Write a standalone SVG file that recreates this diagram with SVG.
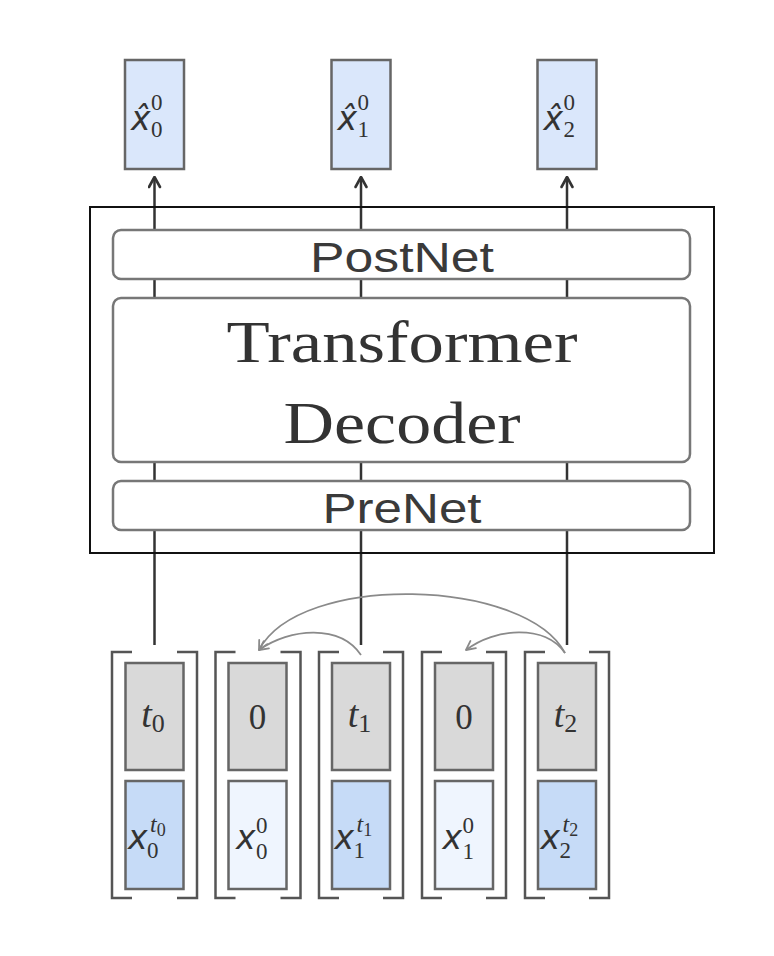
<svg xmlns="http://www.w3.org/2000/svg" width="774" height="956" viewBox="0 0 774 956">
<defs>
<style>
.out{fill:#dae7fb;stroke:#666;stroke-width:2.5}
.tok{fill:#d9d9d9;stroke:#666;stroke-width:2.5}
.emb{fill:#c6dbf7;stroke:#666;stroke-width:2.5}
.emb0{fill:#eff5fe;stroke:#666;stroke-width:2.5}
.blk{fill:#fff;stroke:#777;stroke-width:2.5}
.brk{fill:none;stroke:#555;stroke-width:2.5}
.flow{fill:none;stroke:#333;stroke-width:2.5}
.skip{fill:none;stroke:#8a8a8a;stroke-width:1.8}
.sans{font-family:"Liberation Sans","DejaVu Sans",sans-serif;fill:#3a3a3a}
.serif{font-family:"Liberation Serif","DejaVu Serif",serif;fill:#333}
.mx{font-family:"DejaVu Sans","Liberation Sans",sans-serif;font-style:oblique;fill:#333}
.dg{font-family:"Liberation Serif","DejaVu Serif",serif;fill:#333;font-size:23px}
</style>
<marker id="ah" viewBox="0 0 14 14" refX="13" refY="7" markerWidth="14" markerHeight="14" markerUnits="userSpaceOnUse" orient="auto">
<path d="M3,1.5 L13,7 L3,12.5" fill="none" stroke="#333" stroke-width="2.6" stroke-linecap="round" stroke-linejoin="round"/>
</marker>
<marker id="ahg" viewBox="0 0 12 12" refX="11" refY="6" markerWidth="12" markerHeight="12" markerUnits="userSpaceOnUse" orient="auto">
<path d="M2,1.5 L11,6 L2,10.5" fill="none" stroke="#8a8a8a" stroke-width="1.8" stroke-linecap="round" stroke-linejoin="round"/>
</marker>
</defs>
<rect width="774" height="956" fill="#fff"/>

<g id="connectors">
<line class="flow" x1="154.5" y1="645" x2="154.5" y2="177" marker-end="url(#ah)"/>
<line class="flow" x1="361" y1="645" x2="361" y2="177" marker-end="url(#ah)"/>
<line class="flow" x1="567" y1="645" x2="567" y2="177" marker-end="url(#ah)"/>
<path class="skip" d="M565,653 C525,578 300,572 259,650" marker-end="url(#ahg)"/>
<path class="skip" d="M361,655 C340,624 290,628 259,650" marker-end="url(#ahg)"/>
<path class="skip" d="M565,653 C545,624 495,628 466,650" marker-end="url(#ahg)"/>
</g>

<g id="decoder">
<rect x="90" y="207" width="624" height="346" fill="none" stroke="#111" stroke-width="2"/>
</g>
<g id="postnet">
<rect class="blk" x="113" y="230" width="577" height="49" rx="8"/>
<text class="sans" x="402" y="272" font-size="42" text-anchor="middle" textLength="184" lengthAdjust="spacingAndGlyphs">PostNet</text>
</g>
<g id="transformer">
<rect class="blk" x="113" y="298" width="577" height="164" rx="8"/>
<text class="serif" x="402" y="362" font-size="60" text-anchor="middle" textLength="351" lengthAdjust="spacingAndGlyphs">Transformer</text>
<text class="serif" x="402" y="443" font-size="60" text-anchor="middle" textLength="237" lengthAdjust="spacingAndGlyphs">Decoder</text>
</g>
<g id="prenet">
<rect class="blk" x="113" y="481" width="577" height="49" rx="8"/>
<text class="sans" x="402" y="523" font-size="42" text-anchor="middle" textLength="159" lengthAdjust="spacingAndGlyphs">PreNet</text>
</g>

<g id="out0">
<rect class="out" x="125" y="60" width="59" height="109"/>
<text class="mx" x="131" y="130" font-size="33">x̂</text>
<text class="dg" x="151" y="110">0</text>
<text class="dg" x="151" y="137">0</text>
</g>
<g id="out1">
<rect class="out" x="331.5" y="60" width="59" height="109"/>
<text class="mx" x="337.5" y="130" font-size="33">x̂</text>
<text class="dg" x="357.5" y="110">0</text>
<text class="dg" x="357.5" y="137">1</text>
</g>
<g id="out2">
<rect class="out" x="537.5" y="60" width="59" height="109"/>
<text class="mx" x="543.5" y="130" font-size="33">x̂</text>
<text class="dg" x="563.5" y="110">0</text>
<text class="dg" x="563.5" y="137">2</text>
</g>

<g id="in0">
<path class="brk" d="M132,652 H112 V898 H132 M177,652 H197 V898 H177"/>
<rect class="tok" x="125.5" y="663" width="58" height="107"/>
<text class="serif" x="153" y="727" font-size="38" text-anchor="middle"><tspan font-style="italic">t</tspan><tspan font-size="26" dy="5">0</tspan></text>
<rect class="emb" x="125.5" y="781" width="58" height="108"/>
<text class="mx" x="128" y="849" font-size="33">x</text>
<text class="dg" x="147" y="858">0</text>
<text class="serif" x="150" y="832" font-size="24"><tspan font-style="italic">t</tspan><tspan font-size="18" dy="4">0</tspan></text>
</g>
<g id="in1">
<path class="brk" d="M235.5,652 H215.5 V898 H235.5 M280.5,652 H300.5 V898 H280.5"/>
<rect class="tok" x="228.5" y="663" width="58" height="107"/>
<text class="serif" x="257.5" y="729" font-size="35" text-anchor="middle">0</text>
<rect class="emb0" x="228.5" y="781" width="58" height="108"/>
<text class="mx" x="236" y="849" font-size="33">x</text>
<text class="dg" x="256" y="859">0</text>
<text class="dg" x="256" y="833">0</text>
</g>
<g id="in2">
<path class="brk" d="M339,652 H319 V898 H339 M383,652 H403 V898 H383"/>
<rect class="tok" x="332" y="663" width="58" height="107"/>
<text class="serif" x="359.5" y="727" font-size="38" text-anchor="middle"><tspan font-style="italic">t</tspan><tspan font-size="26" dy="5">1</tspan></text>
<rect class="emb" x="332" y="781" width="58" height="108"/>
<text class="mx" x="334.5" y="849" font-size="33">x</text>
<text class="dg" x="353.5" y="858">1</text>
<text class="serif" x="356.5" y="832" font-size="24"><tspan font-style="italic">t</tspan><tspan font-size="18" dy="4">1</tspan></text>
</g>
<g id="in3">
<path class="brk" d="M442,652 H422 V898 H442 M486,652 H506 V898 H486"/>
<rect class="tok" x="435" y="663" width="58" height="107"/>
<text class="serif" x="464" y="729" font-size="35" text-anchor="middle">0</text>
<rect class="emb0" x="435" y="781" width="58" height="108"/>
<text class="mx" x="442.5" y="849" font-size="33">x</text>
<text class="dg" x="462.5" y="859">1</text>
<text class="dg" x="462.5" y="833">0</text>
</g>
<g id="in4">
<path class="brk" d="M545,652 H525 V898 H545 M589,652 H609 V898 H589"/>
<rect class="tok" x="538" y="663" width="58" height="107"/>
<text class="serif" x="565.5" y="727" font-size="38" text-anchor="middle"><tspan font-style="italic">t</tspan><tspan font-size="26" dy="5">2</tspan></text>
<rect class="emb" x="538" y="781" width="58" height="108"/>
<text class="mx" x="540.5" y="849" font-size="33">x</text>
<text class="dg" x="559.5" y="858">2</text>
<text class="serif" x="562.5" y="832" font-size="24"><tspan font-style="italic">t</tspan><tspan font-size="18" dy="4">2</tspan></text>
</g>
</svg>
